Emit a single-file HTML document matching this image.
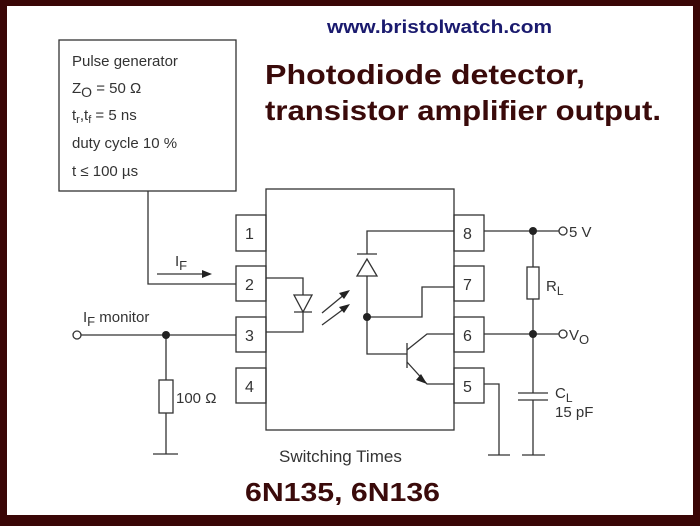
<!DOCTYPE html>
<html><head><style>html,body{margin:0;padding:0;background:#3a0606}</style></head><body>
<svg width="700" height="521" xmlns="http://www.w3.org/2000/svg" font-family="Liberation Sans, Arial, sans-serif">
<rect x="0" y="0" width="700" height="521" fill="#3a0606"/>
<rect x="7" y="6" width="686" height="509" fill="#fff"/>
<g stroke="#333" stroke-width="1.3" fill="none">
<rect x="59" y="40" width="177" height="151"/>
<polyline points="148,191 148,284 236,284"/>
<line x1="157" y1="274" x2="205" y2="274"/>
<rect x="266" y="189" width="188" height="241"/>
<rect x="236" y="215" width="30" height="36"/>
<rect x="236" y="266" width="30" height="35"/>
<rect x="236" y="317" width="30" height="35"/>
<rect x="236" y="368" width="30" height="35"/>
<rect x="454" y="215" width="30" height="36"/>
<rect x="454" y="266" width="30" height="35"/>
<rect x="454" y="317" width="30" height="35"/>
<rect x="454" y="368" width="30" height="35"/>
<polyline points="266,278 303,278 303,295"/>
<polygon points="294,295 312,295 303,312"/>
<line x1="294" y1="312" x2="312" y2="312"/>
<polyline points="303,312 303,332 266,332"/>
<line x1="322" y1="313" x2="345" y2="294"/>
<line x1="322" y1="325" x2="345" y2="308"/>
<polyline points="367,254 367,231 454,231"/>
<line x1="357" y1="254" x2="377" y2="254"/>
<polygon points="367,259 357,276 377,276"/>
<polyline points="367,276 367,354 407,354"/>
<polyline points="367,317 422,317 422,287 454,287"/>
<line x1="407" y1="343" x2="407" y2="368"/>
<polyline points="407,350 427,334 454,334"/>
<polyline points="407,362 427,384 454,384"/>
<polyline points="484,384 499,384 499,455"/>
<line x1="488" y1="455" x2="510" y2="455"/>
<line x1="484" y1="231" x2="559" y2="231"/>
<line x1="484" y1="334" x2="559" y2="334"/>
<line x1="533" y1="231" x2="533" y2="267"/>
<rect x="527" y="267" width="12" height="32"/>
<line x1="533" y1="299" x2="533" y2="393"/>
<line x1="518" y1="393" x2="548" y2="393"/>
<line x1="518" y1="400" x2="548" y2="400"/>
<line x1="533" y1="400" x2="533" y2="455"/>
<line x1="522" y1="455" x2="545" y2="455"/>
<circle cx="563" cy="231" r="4" fill="#fff"/>
<circle cx="563" cy="334" r="4" fill="#fff"/>
<line x1="81" y1="335" x2="236" y2="335"/>
<circle cx="77" cy="335" r="4" fill="#fff"/>
<line x1="166" y1="335" x2="166" y2="380"/>
<rect x="159" y="380" width="14" height="33"/>
<line x1="166" y1="413" x2="166" y2="454"/>
<line x1="153" y1="454" x2="178" y2="454"/>
</g>
<g fill="#222">
<polygon points="212,274 202,270 202,278"/>
<polygon points="350,290 339,293 344,299"/>
<polygon points="350,304 339,307 344,313"/>
<polygon points="427,384 416,380 421,374"/>
<circle cx="367" cy="317" r="4"/>
<circle cx="533" cy="231" r="4"/>
<circle cx="533" cy="334" r="4"/>
<circle cx="166" cy="335" r="4"/>
</g>
<g fill="#333" font-size="15">
<text x="72" y="66">Pulse generator</text>
<text x="72" y="93">Z<tspan font-size="14" dy="4">O</tspan><tspan dy="-4"> = 50 Ω</tspan></text>
<text x="72" y="120">t<tspan font-size="11" dy="3">r</tspan><tspan dy="-3">,t</tspan><tspan font-size="11" dy="3">f</tspan><tspan dy="-3"> = 5 ns</tspan></text>
<text x="72" y="148">duty cycle 10 %</text>
<text x="72" y="176">t ≤ 100 µs</text>
<text x="175" y="266">I<tspan font-size="13" dy="4">F</tspan></text>
<text x="245" y="239" font-size="16">1</text>
<text x="245" y="290" font-size="16">2</text>
<text x="245" y="341" font-size="16">3</text>
<text x="245" y="392" font-size="16">4</text>
<text x="463" y="239" font-size="16">8</text>
<text x="463" y="290" font-size="16">7</text>
<text x="463" y="341" font-size="16">6</text>
<text x="463" y="392" font-size="16">5</text>
<text x="569" y="237">5 V</text>
<text x="569" y="340">V<tspan font-size="13" dy="4">O</tspan></text>
<text x="546" y="291">R<tspan font-size="12" dy="4">L</tspan></text>
<text x="555" y="398">C<tspan font-size="12" dy="4">L</tspan></text>
<text x="555" y="417">15 pF</text>
<text x="83" y="322">I<tspan font-size="13" dy="4">F</tspan><tspan dy="-4"> monitor</tspan></text>
<text x="176" y="403">100 Ω</text>
<text x="279" y="462" font-size="17">Switching Times</text>
</g>
<text x="327" y="33" font-size="18" font-weight="bold" fill="#1a1a6e" textLength="225" lengthAdjust="spacingAndGlyphs">www.bristolwatch.com</text>
<text x="265" y="84" font-size="28" font-weight="bold" fill="#3a0a0a" textLength="320" lengthAdjust="spacingAndGlyphs">Photodiode detector,</text>
<text x="265" y="120" font-size="28" font-weight="bold" fill="#3a0a0a" textLength="396" lengthAdjust="spacingAndGlyphs">transistor amplifier output.</text>
<text x="245" y="501" font-size="26" font-weight="bold" fill="#3a0a0a" textLength="195" lengthAdjust="spacingAndGlyphs">6N135, 6N136</text>
</svg>
</body></html>
